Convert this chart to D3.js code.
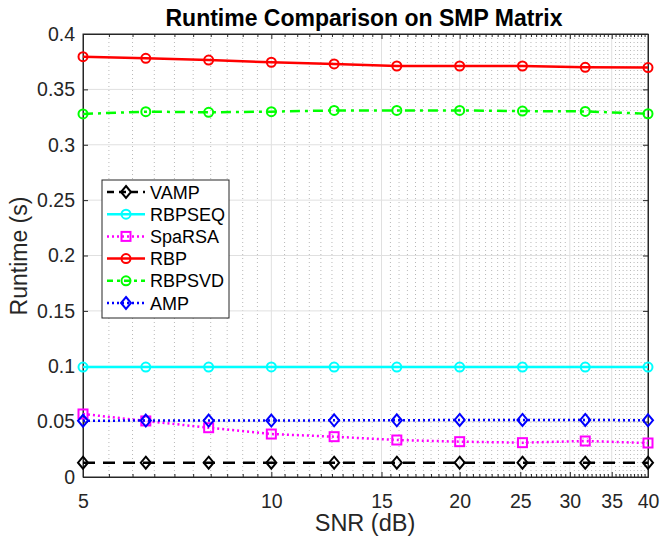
<!DOCTYPE html>
<html><head><meta charset="utf-8">
<script src="https://cdn.jsdelivr.net/npm/d3@7"></script>
<style>body{margin:0;background:#fff}svg{display:block;font-family:"Liberation Sans",Arial,sans-serif}</style>
</head><body><svg id="c" width="660" height="537"></svg>
<script>
const snr = [5, 6.30, 7.94, 10, 12.6, 15.87, 20, 25.2, 31.75, 40];
const xTicks = [5, 10, 15, 20, 25, 30, 35, 40];
const yTicks = [0, 0.05, 0.1, 0.15, 0.2, 0.25, 0.3, 0.35, 0.4];
const seriesNames = ["VAMP", "RBPSEQ", "SpaRSA", "RBP", "RBPSVD", "AMP"];
const vamp   = [0.0129, 0.0129, 0.0129, 0.0129, 0.0129, 0.0129, 0.0129, 0.0129, 0.0129, 0.0129];
const rbpseq = [0.0993, 0.0993, 0.0993, 0.0994, 0.0993, 0.0993, 0.0993, 0.0993, 0.0993, 0.0993];
const sparsa = [0.0569, 0.0506, 0.0445, 0.0388, 0.0364, 0.0334, 0.0319, 0.0310, 0.0325, 0.0307];
const rbp    = [0.3795, 0.3780, 0.3765, 0.3745, 0.3730, 0.3711, 0.3711, 0.3711, 0.3699, 0.3697];
const rbpsvd = [0.3278, 0.3299, 0.3293, 0.3299, 0.3310, 0.3310, 0.3310, 0.3304, 0.3301, 0.3280];
const amp    = [0.0508, 0.0510, 0.0510, 0.0510, 0.0512, 0.0512, 0.0515, 0.0515, 0.0515, 0.0512];

const styles = {
  VAMP:   {color:"#000000", dash:"12,8", ldash:"7,5", marker:"diamond"},
  RBPSEQ: {color:"#00ffff", dash:null, ldash:null, marker:"circle"},
  SpaRSA: {color:"#ff00ff", dash:"2,3", ldash:"2,3", marker:"square"},
  RBP:    {color:"#ff0000", dash:null, ldash:null, marker:"circle"},
  RBPSVD: {color:"#00ff00", dash:"10,5,3,5", ldash:"6,4,3,4", marker:"circle"},
  AMP:    {color:"#0000ff", dash:"2,3", ldash:"2,3", marker:"diamond"}
};
const dataMap = {VAMP:vamp, RBPSEQ:rbpseq, SpaRSA:sparsa, RBP:rbp, RBPSVD:rbpsvd, AMP:amp};

const L=83, R=648, T=34, B=477;
const x = d3.scaleLog().domain([5,40]).range([L,R]);
const y = d3.scaleLinear().domain([0,0.4]).range([B,T]);
const svg = d3.select("#c");

// minor grid
const minor = d3.range(5.5, 40, 0.5).filter(v => !xTicks.includes(v));
svg.append("g").selectAll("line").data(minor).join("line")
  .attr("x1", d=>x(d)).attr("x2", d=>x(d)).attr("y1", T).attr("y2", B)
  .attr("stroke", "#b8b8b8").attr("stroke-width", 1).attr("stroke-dasharray", "1,3");
// major grid
svg.append("g").selectAll("line").data(xTicks.slice(1,-1)).join("line")
  .attr("x1", d=>x(d)).attr("x2", d=>x(d)).attr("y1", T).attr("y2", B)
  .attr("stroke", "#e0e0e0").attr("stroke-width", 1);
svg.append("g").selectAll("line").data(yTicks.slice(1,-1)).join("line")
  .attr("x1", L).attr("x2", R).attr("y1", d=>y(d)).attr("y2", d=>y(d))
  .attr("stroke", "#e0e0e0").attr("stroke-width", 1);

// axes
const axCol = "#262626";
const gx = svg.append("g").attr("transform", `translate(0,${B})`)
  .call(d3.axisBottom(x).tickValues(xTicks).tickFormat(d3.format("d")).tickSizeInner(-5).tickSizeOuter(0).tickPadding(17));
const gxt = svg.append("g").attr("transform", `translate(0,${T})`)
  .call(d3.axisTop(x).tickValues(xTicks).tickFormat("").tickSizeInner(-5).tickSizeOuter(0));
const gxm = svg.append("g").attr("transform", `translate(0,${B})`)
  .call(d3.axisBottom(x).tickValues(minor).tickFormat("").tickSizeInner(-3).tickSizeOuter(0));
const gxmt = svg.append("g").attr("transform", `translate(0,${T})`)
  .call(d3.axisTop(x).tickValues(minor).tickFormat("").tickSizeInner(-3).tickSizeOuter(0));
const gy = svg.append("g").attr("transform", `translate(${L},0)`)
  .call(d3.axisLeft(y).tickValues(yTicks).tickFormat(d=>d3.format("")(+d.toFixed(2))).tickSizeInner(-5).tickSizeOuter(0).tickPadding(8));
const gyr = svg.append("g").attr("transform", `translate(${R},0)`)
  .call(d3.axisRight(y).tickValues(yTicks).tickFormat("").tickSizeInner(-5).tickSizeOuter(0));
[gx,gxt,gxm,gxmt,gy,gyr].forEach(g=>{
  g.select(".domain").attr("stroke", axCol).attr("stroke-width", 1);
  g.selectAll(".tick line").attr("stroke", axCol);
  g.selectAll("text").attr("fill", axCol).style("font-size","19.5px").style("font-family","'Liberation Sans',Arial,sans-serif");
});
svg.append("rect").attr("x",L).attr("y",T).attr("width",R-L).attr("height",B-T)
  .attr("fill","none").attr("stroke",axCol).attr("stroke-width",1);

// series
function drawMarker(g, type, cx, cy, color){
  if(type==="circle") g.append("circle").attr("cx",cx).attr("cy",cy).attr("r",4.5).attr("fill","none").attr("stroke",color).attr("stroke-width",2);
  else if(type==="square") g.append("rect").attr("x",cx-4.5).attr("y",cy-4.5).attr("width",9).attr("height",9).attr("fill","none").attr("stroke",color).attr("stroke-width",2);
  else g.append("path").attr("d",`M${cx},${cy-6}L${cx+5},${cy}L${cx},${cy+6}L${cx-5},${cy}Z`).attr("fill","none").attr("stroke",color).attr("stroke-width",2);
}
const line = d3.line().x((d,i)=>x(snr[i])).y(d=>y(d));
seriesNames.forEach(name=>{
  const s = styles[name], vals = dataMap[name];
  const g = svg.append("g");
  g.append("path").datum(vals).attr("d", line).attr("fill","none").attr("stroke", s.color)
    .attr("stroke-width", 2.5).attr("stroke-dasharray", s.dash);
  vals.forEach((v,i)=>drawMarker(g, s.marker, x(snr[i]), y(v), s.color));
});

// legend
const lg = svg.append("g");
lg.append("rect").attr("x",102).attr("y",180).attr("width",127).attr("height",138)
  .attr("fill","#fff").attr("stroke",axCol).attr("stroke-width",1);
seriesNames.forEach((name,i)=>{
  const s = styles[name], yy = 192 + i*22.2;
  lg.append("line").attr("x1",107).attr("x2",145).attr("y1",yy).attr("y2",yy)
    .attr("stroke",s.color).attr("stroke-width",2.5).attr("stroke-dasharray", s.ldash);
  drawMarker(lg, s.marker, 126, yy, s.color);
  lg.append("text").attr("x",150).attr("y",yy+6.5).text(name).attr("fill","#000").style("font-size","18px");
});

// labels
svg.append("text").attr("x",364).attr("y",26).attr("text-anchor","middle").text("Runtime Comparison on SMP Matrix")
  .style("font-size","23px").style("font-weight","bold").attr("fill","#000");
svg.append("text").attr("x",365).attr("y",531).attr("text-anchor","middle").text("SNR (dB)")
  .style("font-size","23.5px").attr("fill",axCol);
svg.append("text").attr("transform","translate(27,256) rotate(-90)").attr("text-anchor","middle").text("Runtime (s)")
  .style("font-size","23px").attr("fill",axCol);
</script></body></html>
